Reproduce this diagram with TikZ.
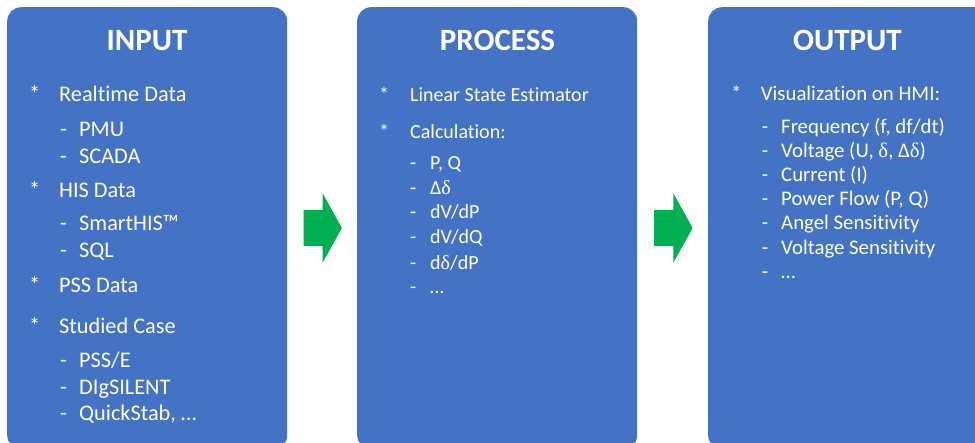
\documentclass[tikz,border=0pt]{standalone}
\usepackage{fontspec}
\setmainfont{Carlito}[Ligatures={NoCommon}]
\newfontfamily\grkfont{Liberation Serif}
\newcommand{\dlt}{{\grkfont δ}}
\usetikzlibrary{shapes.arrows}
\definecolor{panelblue}{HTML}{4472C4}
\definecolor{flowgreen}{HTML}{00B050}
\tikzset{%
  panel/.style     = {rectangle, rounded corners=14pt, fill=panelblue,%
                      anchor=north west, inner sep=0pt,%
                      minimum width=280pt, minimum height=442pt},%
  heading/.style   = {text=white, anchor=base, inner sep=0pt,%
                      font=\fontsize{31}{31}\selectfont\bfseries},%
  bigitem/.style   = {text=white, anchor=base west, inner sep=0pt,%
                      font=\fontsize{22.3}{26}\selectfont},%
  smallitem/.style = {bigitem, font=\fontsize{20}{24}\selectfont},%
  outitem/.style   = {bigitem, font=\fontsize{20.8}{24}\selectfont},%
  flow/.style      = {single arrow, fill=flowgreen, anchor=tail,%
                      inner xsep=0pt, inner ysep=18pt, minimum height=38.4pt,%
                      single arrow head extend=16.5pt, single arrow tip angle=122}%
}

\begin{document}
\begin{tikzpicture}[x=1pt,y=-1pt]
	\clip (0,0) rectangle (975,443);
	% panels and flow arrows
	\node[panel] (input) at (7,7) {};
	\node[panel] (process) at (357,7) {};
	\node[panel] (output) at (708,7) {};
	\node[flow] (arrA) at (303.3,228) {};
	\node[flow] (arrB) at (654,228) {};
	% input
	\node[heading] (inTitle) at (147,50.7) {INPUT};
	\foreach \txt/\yy [count=\i] in {Realtime Data/101.7, HIS Data/197.3, PSS Data/292.3, Studied Case/333.3}{
		\node[bigitem] (inStar\i) at (29,\yy) {*};
		\node[bigitem] (inItem\i) at (59,\yy) {\txt};
	}
	\foreach \txt/\yy [count=\i] in {PMU/136.7, SCADA/163.3, SmartHIS™/231, SQL/258, {PSS/E}/367.3, DIgSILENT/395, {QuickStab, …}/420.7}{
		\node[bigitem] (inDash\i) at (60,\yy) {-};
		\node[bigitem] (inSub\i) at (79,\yy) {\txt};
	}
	% process
	\node[heading] (procTitle) at (497.5,50.7) {PROCESS};
	\foreach \txt/\yy [count=\i] in {Linear State Estimator/101.7, Calculation:/138.3}{
		\node[smallitem] (procStar\i) at (379,\yy) {*};
		\node[smallitem] (procItem\i) at (410,\yy) {\txt};
	}
	\foreach \txt/\yy [count=\i] in {{P, Q}/169.3, Δ\dlt/194.3, {dV/dP}/219, {dV/dQ}/243.3, {d\dlt/dP}/269.3, …/293.3}{
		\node[smallitem] (procDash\i) at (410,\yy) {-};
		\node[smallitem] (procSub\i) at (430,\yy) {\txt};
	}
	% output
	\node[heading] (outTitle) at (847.5,50.7) {OUTPUT};
	\node[outitem] (outStar) at (731,101) {*};
	\node[outitem] (outItem) at (760.7,101) {Visualization on HMI:};
	\foreach \txt/\yy [count=\i] in {{Frequency (f, df/dt)}/133.3, {Voltage (U, \dlt, Δ\dlt)}/157.3, Current (I)/181.7, {Power Flow (P, Q)}/205.7, Angel Sensitivity/230, Voltage Sensitivity/255, …/278.3}{
		\node[outitem] (outDash\i) at (761.7,\yy) {-};
		\node[outitem] (outSub\i) at (781,\yy) {\txt};
	}
\end{tikzpicture}
\end{document}
